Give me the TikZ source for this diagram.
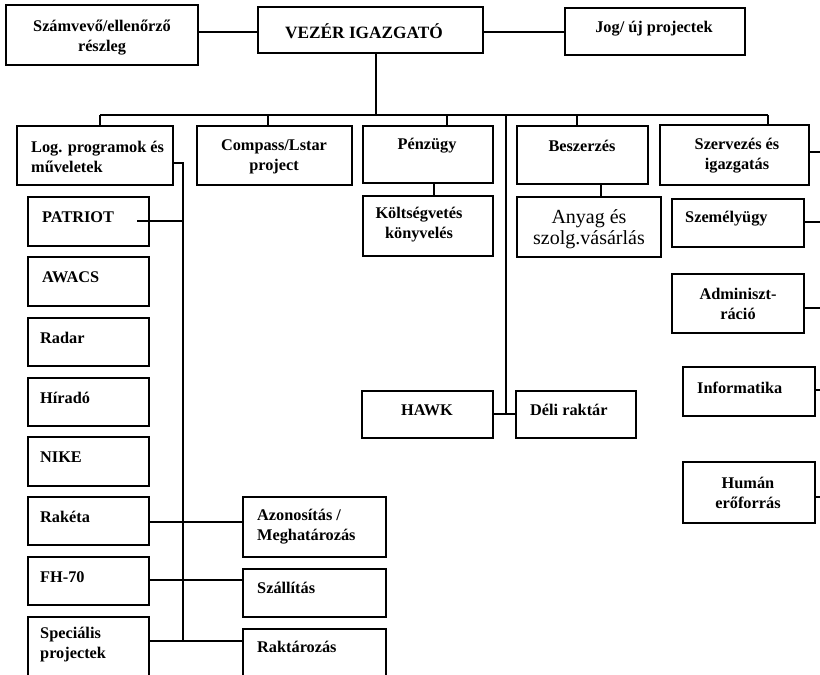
\documentclass[tikz,border=0pt]{standalone}
\usepackage{fontspec}
\setmainfont{Liberation Serif}
\tikzset{
  box/.style={draw, line width=1.4pt, inner sep=0pt},
  txt/.style={font=\fontsize{16.3}{20}\selectfont\bfseries, inner sep=0pt, align=center},
  ltxt/.style={txt, anchor=west, align=left},
  big/.style={font=\fontsize{20}{21}\selectfont, inner sep=0pt, align=center},
  ln/.style={line width=1.3pt},
}
\newcommand\bx[5]{\node[box, minimum width={(#4-#2)*1pt}, minimum height={(#5-#3)*1pt}] (#1) at ({(#2+#4)/2},{(#3+#5)/2}) {};}
\begin{document}
\begin{tikzpicture}[x=1pt,y=-1pt]
\useasboundingbox (0,0) rectangle (820,675);
\clip (0,0) rectangle (820,675);
\fill[white] (0,0) rectangle (820,675);
% top row
\bx{szam}{6}{5}{198}{65}
\bx{vezer}{258}{7}{483}{53}
\bx{jog}{565}{8}{745}{55}
% second row
\bx{log}{17}{126}{173}{185}
\bx{comp}{197}{126}{352}{185}
\bx{penz}{363}{126}{493}{183}
\bx{besz}{517}{126}{648}{184}
\bx{szerv}{660}{125}{809}{185}
% under
\bx{kolts}{363}{196}{493}{256}
\bx{anyag}{517}{197}{661}{257}
\bx{szem}{672}{199}{804}{247}
\bx{admin}{672}{274}{804}{333}
\bx{info}{683}{367}{815}{416}
\bx{human}{683}{462}{815}{523}
\bx{hawk}{362}{391}{493}{438}
\bx{deli}{516}{391}{636}{438}
% left column
\bx{patriot}{28}{197}{149}{246}
\bx{awacs}{28}{257}{149}{306}
\bx{radar}{28}{318}{149}{366}
\bx{hirado}{28}{378}{149}{426}
\bx{nike}{28}{437}{149}{486}
\bx{raketa}{28}{497}{149}{545}
\bx{fh}{28}{557}{149}{605}
\bx{spec}{28}{617}{149}{690}
\bx{azon}{243}{497}{386}{557}
\bx{szall}{243}{569}{386}{617}
\bx{raktar}{243}{629}{386}{690}
% texts
\node[txt] (t-szam) at (102,38) {Számvevő/ellenőrző\\részleg};
\node[txt, font=\fontsize{17.3}{20}\selectfont\bfseries] (t-vezer) at (364,31) {VEZÉR IGAZGATÓ};
\node[txt] (t-jog) at (654,29) {Jog/ új projectek};
\node[ltxt] (t-log) at (31,157) {Log. programok és\\műveletek};
\node[txt] (t-comp) at (274,157) {Compass/Lstar\\project};
\node[txt] (t-penz) at (427,146) {Pénzügy};
\node[txt] (t-besz) at (582,146) {Beszerzés};
\node[txt] (t-szerv) at (737,156) {Szervezés és\\igazgatás};
\node[txt] (t-kolts) at (419,225) {Költségvetés\\könyvelés};
\node[big] (t-anyag) at (589,229) {Anyag és\\szolg.vásárlás};
\node[ltxt] (t-szem) at (685,219) {Személyügy};
\node[txt] (t-admin) at (738,304) {Adminiszt-\\ráció};
\node[ltxt] (t-info) at (697,388) {Informatika};
\node[txt] (t-human) at (748,493) {Humán\\erőforrás};
\node[txt] (t-hawk) at (427,410) {HAWK};
\node[ltxt] (t-deli) at (530,410) {Déli raktár};
\node[ltxt] (t-patriot) at (42,217) {PATRIOT};
\node[ltxt] (t-awacs) at (42,277) {AWACS};
\node[ltxt] (t-radar) at (40,338) {Radar};
\node[ltxt] (t-hirado) at (40,398) {Híradó};
\node[ltxt] (t-nike) at (40,457) {NIKE};
\node[ltxt] (t-raketa) at (40,517) {Rakéta};
\node[ltxt] (t-fh) at (40,577) {FH-70};
\node[ltxt] (t-spec) at (40,645) {Speciális\\projectek};
\node[ltxt] (t-azon) at (257,527) {Azonosítás /\\Meghatározás};
\node[ltxt] (t-szall) at (257,588) {Szállítás};
\node[ltxt] (t-raktar) at (257,647) {Raktározás};
% connectors
\coordinate (busL) at (100,115);
\coordinate (busR) at (768,115);
\draw[ln] (szam.east |- 0,32) -- (vezer.west |- 0,32);
\draw[ln] (vezer.east |- 0,32) -- (jog.west |- 0,32);
\draw[ln] (vezer.south -| 376,0) -- (376,115);
\draw[ln] (busL) -- (busR);
\draw[ln] (busL) -- (log.north -| busL);
\draw[ln] (268,115) -- (comp.north -| 268,0);
\draw[ln] (447,115) -- (penz.north -| 447,0);
\draw[ln] (577,115) -- (besz.north -| 577,0);
\draw[ln] (busR) -- (szerv.north -| busR);
\coordinate (hawkj) at (506,414);
\draw[ln] (506,115) -- (hawkj);
\draw[ln] (hawk.east |- hawkj) -- (deli.west |- hawkj);
\draw[ln] (penz.south -| 434,0) -- (kolts.north -| 434,0);
\draw[ln] (besz.south -| 601,0) -- (anyag.north -| 601,0);
% left spine
\coordinate (spT) at (183,163);
\coordinate (spB) at (183,641);
\draw[ln] (log.east |- spT) -- (spT) -- (spB);
\coordinate (patS) at (137,221);
\draw[ln] (patS) -- (patS -| spT);
\draw[ln] (raketa.east |- 0,522) -- (azon.west |- 0,522);
\draw[ln] (fh.east |- 0,580) -- (szall.west |- 0,580);
\draw[ln] (spec.east |- spB) -- (raktar.west |- spB);
% right stubs
\draw[ln] (szerv.east |- 0,152) -- (820,152);
\draw[ln] (szem.east |- 0,222) -- (820,222);
\draw[ln] (admin.east |- 0,308) -- (820,308);
\draw[ln] (info.east |- 0,390) -- (820,390);
\draw[ln] (human.east |- 0,497) -- (820,497);
\end{tikzpicture}
\end{document}
